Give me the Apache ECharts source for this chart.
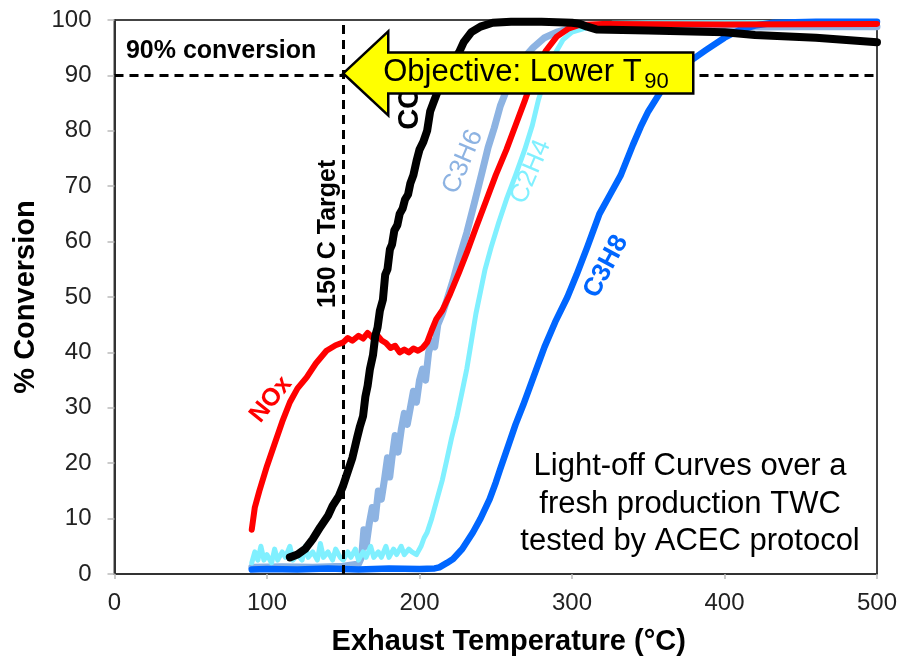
<!DOCTYPE html>
<html><head><meta charset="utf-8">
<script src="https://cdn.jsdelivr.net/npm/echarts@6/dist/echarts.min.js"></script>
<style>html,body{margin:0;padding:0;background:#fff}#c{width:902px;height:661px}</style>
</head><body><div id="c"></div><script>
const FONT = "'Liberation Sans', Arial, Helvetica, sans-serif";

// Reference values
const targetTemp = 150;     // 150 C Target
const objectiveConv = 90;   // 90% conversion

// Light-off curves: [temperature °C, % conversion]
const noxData = [[90,8],[92,12],[95,15],[100,19.5],[105,23.5],[110,27.5],[115,31],[120,33.5],[126,35.5],[132,38],[139,40.3],[145,41.3],[150,41.8],[153,42.6],[156,42.1],[160,43],[163,42.5],[166,43.5],[169,42.7],[172,43.2],[175,42.2],[178,41.7],[181,40.8],[184,41.2],[187,40],[190,40.5],[193,40],[196,40.7],[199,40.3],[202,40.8],[205,41.8],[208,44],[211,46],[215,47.6],[220,50.5],[226,54.5],[231,58],[237,62.5],[244,67.6],[250,72],[257,76.6],[263,81],[269,85.4],[273,88.5],[277,91.5],[283,94.5],[290,97],[298,98.5],[305,99.1],[320,99.3],[400,99.2],[500,99.3]];

const coData = [[115,3],[120,3.5],[125,4.5],[130,6.3],[135,8.5],[140,10.5],[143,12.3],[147,14],[150,16],[153,18.5],[156,21],[159,24.5],[161,26.7],[163,28.5],[164.5,32],[166,34],[167.5,37],[169.5,39.5],[171,43],[172.5,44.5],[174,47.5],[176,49.5],[177.5,54],[179,55],[180.6,58.6],[182,59.5],[183.5,62],[185.5,63],[187,65],[189,66],[190.5,67.6],[192.5,68.5],[194,70.5],[196,72],[198,74.5],[200,76.6],[202.5,78],[205,80],[207,83.5],[209,85],[211.5,86.8],[215,89],[220,91.5],[226,94.2],[229,96],[234,97.8],[240,98.8],[248,99.5],[260,99.7],[280,99.7],[300,99.5],[305,99.3],[310,98.8],[316,98.3],[350,98.1],[400,97.8],[420,97.3],[460,96.8],[500,96]];

const c3h6Data = [[90,1.2],[110,1.3],[130,1.2],[150,1.4],[160,1.8],[162,3],[163.5,8],[165,5],[167,9],[169,12],[171,10],[173,15],[175,13.5],[177,17],[179,21],[180.5,17.5],[182,21],[184,25],[186,22],[188,26],[190,29],[192,27],[194,30],[196,33],[198,31],[200,35],[202,37],[204,35],[206,40],[208,42],[210,41],[212,45],[215,47],[218,49.5],[222,53],[226,57],[231,61.6],[236,67],[241,72.5],[245,77],[249,80.5],[253,84.5],[258,88],[264,91],[269,93.3],[274.5,95],[282,96.8],[290,97.8],[300,98.6],[310,99],[350,98.9],[400,98.7],[450,98.8],[500,98.8]];

const c2h4Data = [[90,2],[92,4],[94,2.5],[96,5],[98,2.5],[100,3.5],[103,2],[105,4.5],[107,2.5],[110,4],[112,3],[115,5],[117,2.5],[120,3.5],[123,2.5],[125,5],[127,3],[130,4],[133,2.5],[135,5.5],[137,3],[140,4],[143,2.5],[145,4.5],[148,3],[150,2.5],[153,4],[155,3],[158,4.5],[160,2.5],[163,4],[165,3],[168,5],[170,3],[173,4],[175,3],[178,5],[180,3],[183,4.5],[185,3.5],[188,5],[190,3.5],[193,4.5],[195,4],[198,3.5],[201,5],[203,6.5],[205,7.5],[208,10],[211.5,13.5],[215,17],[218,20.7],[221,24.5],[224.6,28.5],[228,33],[231,37],[234,42],[237,47],[240,51],[243,55],[247,59],[252,63.5],[257,67.6],[263,72],[269,76.6],[274,81],[278,85.6],[283,90],[288,93.5],[294,96.4],[300,97.8],[312,98.8],[327,99.4],[350,99.5],[500,99.6]];

const c3h8Data = [[90,0.8],[100,0.9],[120,0.8],[140,1],[160,0.8],[180,1],[200,0.9],[210,1],[213,1.2],[218,2],[222,2.7],[228,4.5],[235,7.5],[240,10],[246,13.5],[250,16.5],[253,19],[258,23],[263,27],[268,30.5],[274,35],[282,41],[289,45.5],[297,50],[303,54],[310,59],[318,65],[325,68.5],[332,72],[340,77.5],[345,80.7],[350,83.5],[358,87],[366,89.7],[377,92.5],[388,94.6],[400,96.8],[410,98.2],[420,99],[432,99.5],[460,99.7],[500,99.7]];

const seriesNames = ['C3H6','C2H4','C3H8','NOx','CO'];
const seriesColors = ['#8DB3E2','#80F0FF','#0066FF','#FF0000','#000000'];
const seriesWidths = [7,5,6.5,6,8];
const seriesValues = [c3h6Data, c2h4Data, c3h8Data, noxData, coData];

const chart = echarts.init(document.getElementById('c'), null, {renderer:'canvas'});

const series = seriesNames.map((n,i)=>({
  name:n, type:'line', data:seriesValues[i], showSymbol:false, symbol:'none', smooth:false,
  lineStyle:{color:seriesColors[i], width:seriesWidths[i], join:'round', cap:'round'},
  itemStyle:{color:seriesColors[i]}, z:2+i, animation:false
}));
series[0].markLine = {
  silent:true, symbol:['none','none'], animation:false, label:{show:false},
  lineStyle:{color:'#000', width:3, type:[9,6]},
  data:[{xAxis:targetTemp},{yAxis:objectiveConv}]
};

chart.setOption({
  animation:false,
  backgroundColor:'#fff',
  textStyle:{fontFamily:FONT},
  grid:{left:114.5, right:25, top:20, bottom:85.5, show:true, borderColor:'#444', borderWidth:2, backgroundColor:'transparent'},
  xAxis:{type:'value', min:0, max:500, interval:100,
    name:'Exhaust Temperature (°C)', nameLocation:'middle', nameGap:53,
    nameTextStyle:{fontFamily:FONT, fontSize:29, fontWeight:'bold', color:'#000', padding:[0,0,0,26]},
    axisLine:{show:true, lineStyle:{color:'#333', width:2}},
    axisTick:{show:true, length:5, lineStyle:{color:'#bbb', width:1.5}},
    axisLabel:{fontFamily:FONT, fontSize:24, color:'#222', margin:17},
    splitLine:{show:false}},
  yAxis:{type:'value', min:0, max:100, interval:10,
    name:'% Conversion', nameLocation:'middle', nameGap:58,
    nameTextStyle:{fontFamily:FONT, fontSize:29, fontWeight:'bold', color:'#000'},
    axisLine:{show:true, lineStyle:{color:'#333', width:2}},
    axisTick:{show:true, length:7, lineStyle:{color:'#bbb', width:1.5}},
    axisLabel:{fontFamily:FONT, fontSize:24, color:'#222', margin:23},
    splitLine:{show:false}},
  series: series
});

function px(x,y){ return chart.convertToPixel({gridIndex:0}, [x,y]); }
const tip = px(targetTemp, objectiveConv);
const tx = tip[0], ty = tip[1]-2;
const deg = Math.PI/180;

function label(text, x, y, rotDeg, color, size, weight){
  const p = px(x,y);
  return {type:'text', x:p[0], y:p[1], rotation:rotDeg*deg, z:50,
    style:{text:text, fill:color, font: (weight||'normal')+' '+size+'px '+FONT, align:'center', verticalAlign:'middle'}};
}

const graphics = [
  label('NOx', 102.6, 31.5, 51, '#FF0000', 25, 'bold'),
  label('C3H6', 228.5, 74.4, 67, '#8DB3E2', 26, 'normal'),
  label('C2H4', 273, 72.6, 67, '#80F0FF', 26, 'normal'),
  label('C3H8', 322.3, 55.5, 62, '#0066FF', 26, 'bold'),
  label('CO', 193.8, 84.1, 90, '#000', 29, 'bold'),
  label('150 C Target', 139.8, 61.4, 90, '#000', 25, 'bold'),
  (function(){ const p = px(7.5, 94.4); return {type:'text', x:p[0], y:p[1], z:50,
    style:{text:'90% conversion', fill:'#000', font:'bold 25px '+FONT, align:'left', verticalAlign:'middle'}}; })(),
  (function(){ const p = px(377.4, 12.6); return {type:'text', x:p[0], y:p[1], z:50,
    style:{text:'Light-off Curves over a\nfresh production TWC\ntested by ACEC protocol', fill:'#000', font:'normal 31px '+FONT, align:'center', verticalAlign:'middle', lineHeight:37.5}}; })(),
  {type:'polygon', z:60, shape:{points:[[tx,ty],[tx+45,ty-42],[tx+45,ty-21],[tx+350,ty-21],[tx+350,ty+20],[tx+45,ty+20],[tx+45,ty+42]]},
    style:{fill:'#FFFF00', stroke:'#000', lineWidth:2.5, lineJoin:'miter'}},
  {type:'text', z:61, x:tx+40, y:ty-1, style:{text:'Objective: Lower T', fill:'#000', font:'normal 31px '+FONT, align:'left', verticalAlign:'middle'}},
  {type:'text', z:61, x:tx+301, y:ty+9, style:{text:'90', fill:'#000', font:'normal 22px '+FONT, align:'left', verticalAlign:'middle'}}
];
chart.setOption({graphic: graphics});
</script></body></html>
